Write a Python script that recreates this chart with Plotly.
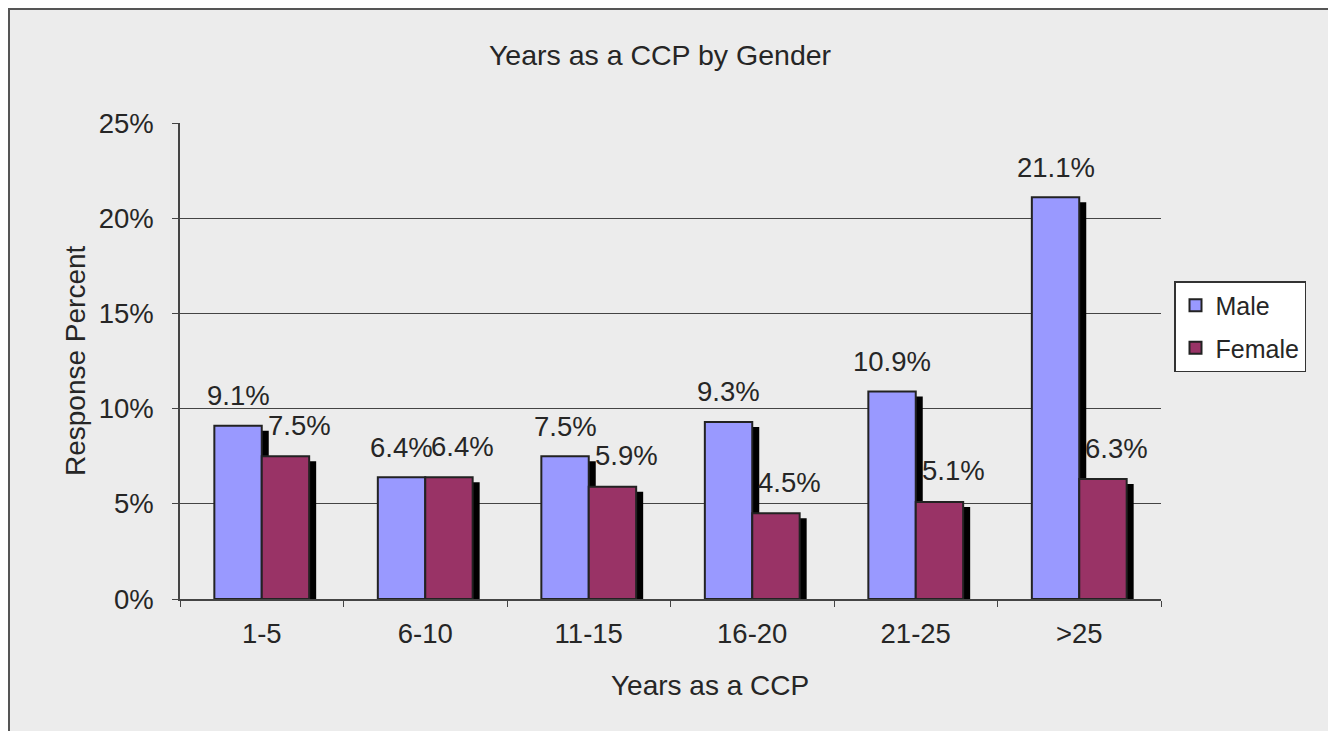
import plotly.graph_objects as go

categories = ["1-5", "6-10", "11-15", "16-20", "21-25", ">25"]
male = [9.1, 6.4, 7.5, 9.3, 10.9, 21.1]
female = [7.5, 6.4, 5.9, 4.5, 5.1, 6.3]
y_ticks = [0, 5, 10, 15, 20, 25]
y_ticktext = ["0%", "5%", "10%", "15%", "20%", "25%"]

MALE_COLOR = "#9999ff"
FEMALE_COLOR = "#993366"
BG = "#ececec"
TXT = "#262626"
FONT = "Liberation Sans, Arial, sans-serif"

OFF = 8  # page body margin
W, H = 1336 - OFF, 731 - OFF
# page-pixel positions of the plot area
PX0, PX1, PY0, PY1 = 180, 1161, 123, 599
ML, MR, MT, MB = PX0 - OFF, 1336 - PX1, PY0 - OFF, 731 - PY1
plot_w = PX1 - PX0
plot_h = PY1 - PY0


def px_x(X):
    return (X - PX0) / plot_w


def px_y(Y):
    return (PY1 - Y) / plot_h


bw = 0.29            # bar width in category units
sh_dx = 7 / (plot_w / len(categories))   # shadow offset (units)
sh_dy = 5 / plot_h * 25                  # shadow offset (% units)

fig = go.Figure()

# shadows
for vals, off in ((male, -bw), (female, 0)):
    fig.add_trace(go.Bar(
        x=categories, y=[v - sh_dy for v in vals], width=bw, offset=off + sh_dx,
        marker=dict(color="#000000", line=dict(width=0)),
        showlegend=False, hoverinfo="skip"))

fig.add_trace(go.Bar(
    x=categories, y=male, name="Male", width=bw, offset=-bw,
    marker=dict(color=MALE_COLOR, line=dict(color="#222222", width=2)),
    legendgroup="m"))
fig.add_trace(go.Bar(
    x=categories, y=female, name="Female", width=bw, offset=0,
    marker=dict(color=FEMALE_COLOR, line=dict(color="#222222", width=2)),
    legendgroup="f"))

LBL = 27.5
annotations = []
for i, v in enumerate(male):
    annotations.append(dict(x=i - bw / 2, y=v, xref="x", yref="y", text=f"{v:.1f}%",
                            showarrow=False, yshift=30, xshift=0,
                            font=dict(size=LBL, color=TXT, family=FONT)))
for i, v in enumerate(female):
    annotations.append(dict(x=i + bw / 2, y=v, xref="x", yref="y", text=f"{v:.1f}%",
                            showarrow=False, yshift=31, xshift=14,
                            font=dict(size=LBL, color=TXT, family=FONT)))

# axis titles
annotations.append(dict(text="Years as a CCP", xref="paper", yref="paper",
                        x=px_x(710), y=px_y(685),
                        showarrow=False, font=dict(size=28, color=TXT, family=FONT),
                        xanchor="center", yanchor="middle"))
annotations.append(dict(text="Response Percent", xref="paper", yref="paper",
                        x=px_x(75), y=px_y(361), textangle=-90,
                        showarrow=False, font=dict(size=28, color=TXT, family=FONT),
                        xanchor="center", yanchor="middle"))

shapes = [dict(type="rect", xref="paper", yref="paper", layer="below",
               x0=px_x(9), x1=px_x(1334), y0=px_y(760), y1=px_y(9),
               fillcolor=BG, line=dict(color="#555555", width=2))]

fig.update_layout(
    width=W, height=H,
    margin=dict(l=ML, r=MR, t=MT, b=MB, pad=0),
    paper_bgcolor="white",
    plot_bgcolor=BG,
    barmode="overlay",
    font=dict(family=FONT, size=LBL, color=TXT),
    title=dict(text="Years as a CCP by Gender", x=(660 - OFF) / W, xanchor="center",
               y=1 - (55 - OFF) / H, yanchor="middle", yref="container", xref="container",
               font=dict(size=28.5, color=TXT, family=FONT)),
    xaxis=dict(type="category", showgrid=False, showline=True, linecolor="#444444", linewidth=1.5,
               ticks="outside", tickson="boundaries", ticklen=6, tickcolor="#444444",
               tickfont=dict(size=LBL, color=TXT), ticklabelstandoff=9,
               range=[-0.5, len(categories) - 0.5], zeroline=False),
    yaxis=dict(range=[0, 25], tickvals=y_ticks, ticktext=y_ticktext,
               showgrid=True, gridcolor="#444444", gridwidth=1.2,
               showline=True, linecolor="#444444", linewidth=1.5,
               ticks="outside", ticklen=6, tickcolor="#444444",
               tickfont=dict(size=LBL, color=TXT), ticklabelstandoff=13, zeroline=False),
    legend=dict(x=px_x(1174), y=px_y(281), xanchor="left", yanchor="top",
                bgcolor="white", bordercolor="#333333", borderwidth=1.5,
                font=dict(size=25, color=TXT, family=FONT), tracegroupgap=7,
                traceorder="grouped", itemwidth=30),
    annotations=annotations,
    shapes=shapes,
)

fig.write_html("out.html")
